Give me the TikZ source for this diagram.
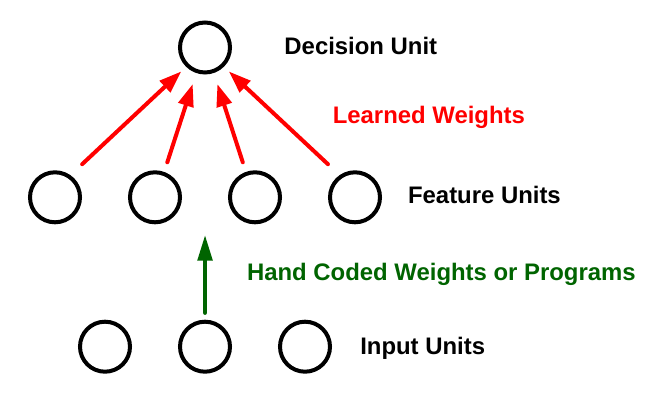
\documentclass[tikz,border=0pt]{standalone}
\usepackage{fontspec}
\setsansfont{Liberation Sans}
\usepackage{tkz-graph}
\usetikzlibrary{arrows.meta}
\usetikzlibrary{shapes}
\definecolor{codedGreen}{RGB}{0,100,0}

\begin{document}
\begin{tikzpicture}[scale = 2.5, font=\sffamily\bfseries\fontsize{17}{20}\selectfont]
\tikzstyle{VertexStyle} = []
\tikzstyle{EdgeStyle} = []
\tikzstyle{unitStyle}=[shape = circle, minimum size = 1.25cm, inner sep = 0pt, line width = 0.1cm, draw]
\tikzstyle{learnedStyle}=[red, line width = 0.1cm, line cap = round, -{Triangle[length=0.56cm, width=0.38cm]}]
\tikzstyle{codedStyle}=[codedGreen, line width = 0.1cm, line cap = round, -{Triangle[length=0.64cm, width=0.36cm]}]
\tikzstyle{labelStyle}=[anchor = base west, inner sep = 0pt]
\useasboundingbox (0,0) rectangle (6.64,4.00);
\Vertex[style = unitStyle, x = 2.05, y = 3.525, NoLabel]{d}
\Vertex[style = unitStyle, x = 0.55, y = 2.027, NoLabel]{f1}
\Vertex[style = unitStyle, x = 1.55, y = 2.027, NoLabel]{f2}
\Vertex[style = unitStyle, x = 2.55, y = 2.027, NoLabel]{f3}
\Vertex[style = unitStyle, x = 3.55, y = 2.027, NoLabel]{f4}
\Vertex[style = unitStyle, x = 1.05, y = 0.533, NoLabel]{i1}
\Vertex[style = unitStyle, x = 2.05, y = 0.533, NoLabel]{i2}
\Vertex[style = unitStyle, x = 3.05, y = 0.533, NoLabel]{i3}
\draw[learnedStyle, shorten <= 0.45cm, shorten >= 0.22cm] (f1.56) -- (d.226);
\draw[learnedStyle, shorten <= 0.3cm, shorten >= 0.34cm] (f2.70) -- (d.251);
\draw[learnedStyle, shorten <= 0.3cm, shorten >= 0.34cm] (f3.110) -- (d.289);
\draw[learnedStyle, shorten <= 0.45cm, shorten >= 0.22cm] (f4.124) -- (d.314);
\coordinate (codedTip) at (2.05, 1.65);
\draw[codedStyle, shorten <= 0.22cm] (i2.north) -- (codedTip);
\node[labelStyle] (decisionText) at (2.842, 3.45) {Decision Unit};
\node[labelStyle, red] (learnedText) at (3.325, 2.767) {Learned Weights};
\node[labelStyle] (featureText) at (4.078, 1.967) {Feature Units};
\node[labelStyle, codedGreen] (codedText) at (2.468, 1.19) {Hand Coded Weights or Programs};
\node[labelStyle] (inputText) at (3.60, 0.457) {Input Units};
\end{tikzpicture}
\end{document}
